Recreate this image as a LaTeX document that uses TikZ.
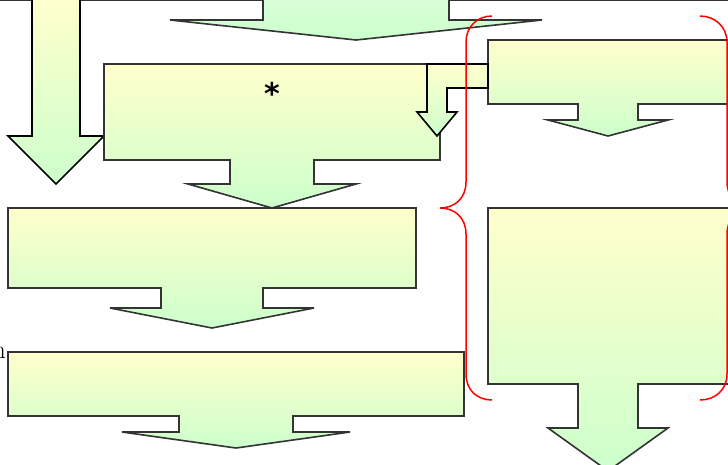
\documentclass[tikz,border=0pt]{standalone}
\usepackage{fontspec}
\newfontfamily\starfont{DejaVu Sans}
\usepackage{xcolor}
\definecolor{pale}{HTML}{FFFFCC}
\definecolor{mint}{HTML}{CCFFCC}
\definecolor{edge}{HTML}{333333}
\tikzset{
  flow/.style={draw=edge, line width=1.6pt, line join=miter, top color=pale, bottom color=mint},
  darkflow/.style={draw=black, line width=1.6pt, line join=miter, top color=pale, bottom color=mint},
  brace/.style={draw=red, line width=1.5pt},
}
\begin{document}
\begin{tikzpicture}[x=1pt,y=-1pt]
\useasboundingbox (0,0) rectangle (728,464);
\clip (0,0) rectangle (728,464);

% frame edge along the top
\draw[edge, line width=1pt] (0,0.5) -- (728,0.5);

% incoming arrow from above (top centre)
\path[flow, top color=mint!70!white, bottom color=mint] (263,-12) -- (263,20) -- (170,20) -- (356,40) -- (542,20) -- (449,20) -- (449,-12) -- cycle;

% long arrow on the left
\path[darkflow] (32,-2) -- (32,136) -- (8,136) -- (56,184) -- (104,136) -- (80,136) -- (80,-2) -- cycle;

% box-arrow A
\path[flow] (104,64) -- (440,64) -- (440,160) -- (314,160) -- (314,184) -- (356,184) -- (272,208) -- (188,184) -- (230,184) -- (230,160) -- (104,160) -- cycle;
\node[font=\starfont\bfseries\fontsize{30}{30}\selectfont, inner sep=0pt] (star) at (272,93) {*};

% box-arrow B
\path[flow] (8,208) -- (416,208) -- (416,288) -- (263,288) -- (263,308) -- (314,308) -- (212,328) -- (110,308) -- (161,308) -- (161,288) -- (8,288) -- cycle;

% box-arrow C
\path[flow] (8,352) -- (464,352) -- (464,416) -- (293,416) -- (293,432) -- (350,432) -- (236,448) -- (122,432) -- (179,432) -- (179,416) -- (8,416) -- cycle;
\node[anchor=base east, inner sep=0pt, font=\fontsize{26}{26}\selectfont] (cut) at (6,358) {n};

% box-arrow D (right, top)
\path[flow] (488,40) -- (740,40) -- (740,104) -- (638,104) -- (638,120) -- (668,120) -- (608,136) -- (548,120) -- (578,120) -- (578,104) -- (488,104) -- cycle;

% box-arrow E (right, bottom)
\path[flow] (488,208) -- (740,208) -- (740,384) -- (638,384) -- (638,428) -- (668,428) -- (608,471) -- (548,428) -- (578,428) -- (578,384) -- (488,384) -- cycle;

% elbow arrow from D into A
\path[darkflow] (488,64) -- (427,64) -- (427,112) -- (417,112) -- (437,136) -- (457,112) -- (447,112) -- (447,88) -- (488,88) -- cycle;

% red braces
\draw[brace] (492,16) .. controls (477,16) and (466,27) .. (466,42) -- (466,182)
  .. controls (466,198) and (455,208) .. (440,208)
  .. controls (455,208) and (466,218) .. (466,234) -- (466,374)
  .. controls (466,390) and (477,400) .. (492,400);
\draw[brace] (700,16) .. controls (715,16) and (727,27) .. (727,42) -- (727,182)
  .. controls (727,198) and (738,208) .. (753,208)
  .. controls (738,208) and (727,218) .. (727,234) -- (727,374)
  .. controls (727,390) and (715,400) .. (700,400);
\end{tikzpicture}
\end{document}
